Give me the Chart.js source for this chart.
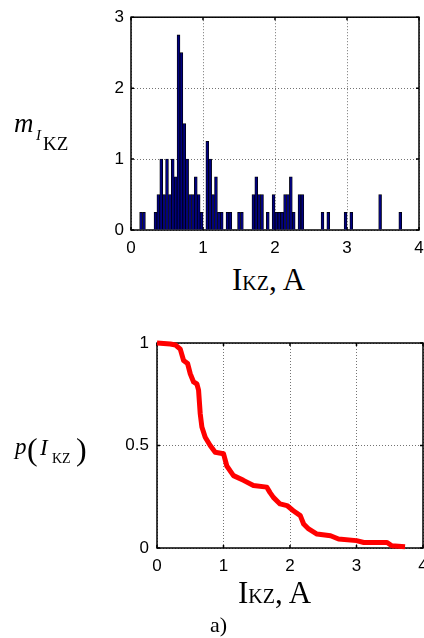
<!DOCTYPE html>
<html>
<head>
<meta charset="utf-8">
<script src="https://cdn.jsdelivr.net/npm/chart.js@4.4.1/dist/chart.umd.min.js"></script>
<style>
  html, body { margin: 0; padding: 0; background: #fff; }
  body { width: 424px; height: 638px; overflow: hidden; position: relative; font-family: 'Liberation Serif', 'Times New Roman', serif; color: #000; }
  canvas { position: absolute; left: 0; }
  .t { position: absolute; line-height: 1; white-space: nowrap; }
  .it { font-style: italic; }
</style>
</head>
<body>
<canvas id="histChart" width="440" height="262" style="top:0"></canvas>
<canvas id="probChart" width="440" height="262" style="top:320px"></canvas>

<!-- y label, top chart: m with subscript I_KZ -->
<span class="t it" style="left:14px;top:110px;font-size:27px">m</span>
<span class="t it" style="left:36px;top:128px;font-size:15px">I</span>
<span class="t" style="left:43px;top:134px;font-size:19px">KZ</span>

<!-- y label, bottom chart: p(I_KZ) -->
<span class="t it" style="left:15px;top:435px;font-size:23px">p</span>
<span class="t" style="left:27px;top:433px;font-size:32px">(</span>
<span class="t it" style="left:40px;top:436px;font-size:23px">I</span>
<span class="t" style="left:52px;top:452px;font-size:14px">KZ</span>
<span class="t" style="left:76px;top:433px;font-size:32px">)</span>

<div class="t" style="left:232px;top:264px;font-size:31px">I<span style="font-size:20px">KZ</span>, A</div>
<div class="t" style="left:238px;top:577px;font-size:31px">I<span style="font-size:20px">KZ</span>, A</div>
<div class="t" style="left:210px;top:614px;font-size:22px">a)</div>

<script>
// histogram: bin centres (A) and m values
const histX = [0.14, 0.18, 0.34, 0.38, 0.42, 0.46, 0.50, 0.54, 0.58, 0.62, 0.66, 0.70, 0.74, 0.78, 0.82,
  0.86, 0.90, 0.94, 0.98, 1.06, 1.10, 1.14, 1.18, 1.22, 1.26, 1.34, 1.38, 1.50, 1.54, 1.70, 1.74, 1.78,
  1.82, 1.90, 1.98, 2.02, 2.06, 2.10, 2.14, 2.18, 2.22, 2.26, 2.34, 2.38, 2.66, 2.74, 2.98, 3.06, 3.46, 3.74];
const histM = [0.25, 0.25, 0.25, 0.5, 1.0, 0.5, 1.0, 0.5, 1.0, 0.75, 2.75, 2.5, 1.5, 1.0, 0.5,
  0.5, 0.75, 0.5, 0.25, 1.25, 1.0, 0.5, 0.75, 0.25, 0.25, 0.25, 0.25, 0.25, 0.25, 0.5, 0.75, 0.5,
  0.5, 0.25, 0.5, 0.25, 0.25, 0.25, 0.5, 0.5, 0.75, 0.25, 0.5, 0.5, 0.25, 0.25, 0.25, 0.25, 0.5, 0.25];

// probability curve p(I_KZ)
const pX = [0, 0.2, 0.28, 0.35, 0.40, 0.46, 0.50, 0.55, 0.60, 0.625, 0.65, 0.675, 0.725, 0.80, 0.875,
  1.0, 1.05, 1.15, 1.30, 1.45, 1.65, 1.70, 1.75, 1.85, 1.955, 2.05, 2.155, 2.205, 2.28, 2.405, 2.61,
  2.73, 3.0, 3.11, 3.46, 3.53, 3.73];
const pY = [1.0, 0.995, 0.99, 0.97, 0.915, 0.90, 0.85, 0.81, 0.80, 0.77, 0.655, 0.59, 0.54, 0.50, 0.467,
  0.46, 0.40, 0.353, 0.33, 0.305, 0.297, 0.27, 0.247, 0.215, 0.207, 0.182, 0.158, 0.117, 0.093, 0.068, 0.06,
  0.044, 0.036, 0.027, 0.027, 0.011, 0.006];

const xTicks = [0, 1, 2, 3, 4];

const tickFont = { family: "'Liberation Sans', Arial, sans-serif", size: 17 };
const gridOpts = { color: 'rgba(0,0,0,0.55)', lineWidth: 1, drawTicks: false, offset: false };
const borderOpts = { display: false, dash: [1, 2] };
const plainLabel = v => String(v);

// MATLAB-like box with small inward ticks
const boxPlugin = {
  id: 'box',
  beforeDatasetsDraw(chart) {
    const { ctx, chartArea: a, scales } = chart;
    ctx.save();
    ctx.strokeStyle = '#000';
    ctx.lineWidth = 1.5;
    ctx.strokeRect(a.left, a.top, a.right - a.left, a.bottom - a.top);
    ctx.beginPath();
    scales.x.ticks.forEach(t => {
      const px = scales.x.getPixelForValue(t.value);
      ctx.moveTo(px, a.bottom); ctx.lineTo(px, a.bottom - 3);
      ctx.moveTo(px, a.top); ctx.lineTo(px, a.top + 3);
    });
    scales.y.ticks.forEach(t => {
      const py = scales.y.getPixelForValue(t.value);
      ctx.moveTo(a.left, py); ctx.lineTo(a.left + 3, py);
      ctx.moveTo(a.right, py); ctx.lineTo(a.right - 3, py);
    });
    ctx.stroke();
    ctx.restore();
  }
};

new Chart(document.getElementById('histChart'), {
  type: 'bar',
  data: {
    datasets: [{
      data: histX.map((x, i) => ({ x: x, y: histM[i] })),
      backgroundColor: '#000080',
      borderColor: '#000',
      borderWidth: 0.8,
      categoryPercentage: 1,
      barPercentage: 1
    }]
  },
  options: {
    responsive: false,
    animation: false,
    layout: { padding: { top: 14, right: 21, left: 0, bottom: 0 } },
    plugins: { legend: { display: false }, tooltip: { enabled: false } },
    scales: {
      x: {
        type: 'linear', min: 0, max: 4, offset: false,
        afterBuildTicks: s => { s.ticks = xTicks.map(v => ({ value: v })); },
        ticks: { padding: 8, font: tickFont, color: '#000', maxRotation: 0, callback: plainLabel },
        grid: gridOpts, border: borderOpts,
        afterFit: s => { s.height = 32; }
      },
      y: {
        min: 0, max: 3,
        ticks: { stepSize: 1, padding: 7, font: tickFont, color: '#000', callback: plainLabel },
        grid: gridOpts, border: borderOpts,
        afterFit: s => { s.width = 131; }
      }
    }
  },
  plugins: [boxPlugin]
});

new Chart(document.getElementById('probChart'), {
  type: 'line',
  data: {
    datasets: [{
      data: pX.map((x, i) => ({ x: x, y: pY[i] })),
      borderColor: '#ff0000',
      borderWidth: 5,
      pointRadius: 0,
      tension: 0,
      fill: false,
      clip: false,
      borderJoinStyle: 'round'
    }]
  },
  options: {
    responsive: false,
    animation: false,
    layout: { padding: { top: 23, right: 17, left: 0, bottom: 0 } },
    plugins: { legend: { display: false }, tooltip: { enabled: false } },
    scales: {
      x: {
        type: 'linear', min: 0, max: 4,
        afterBuildTicks: s => { s.ticks = xTicks.map(v => ({ value: v })); },
        ticks: { padding: 8, font: tickFont, color: '#000', maxRotation: 0, callback: plainLabel },
        grid: gridOpts, border: borderOpts,
        afterFit: s => { s.height = 34; }
      },
      y: {
        min: 0, max: 1,
        ticks: { stepSize: 0.5, padding: 8, font: tickFont, color: '#000', callback: plainLabel },
        grid: gridOpts, border: borderOpts,
        afterFit: s => { s.width = 157; }
      }
    }
  },
  plugins: [boxPlugin]
});
</script>
</body>
</html>
